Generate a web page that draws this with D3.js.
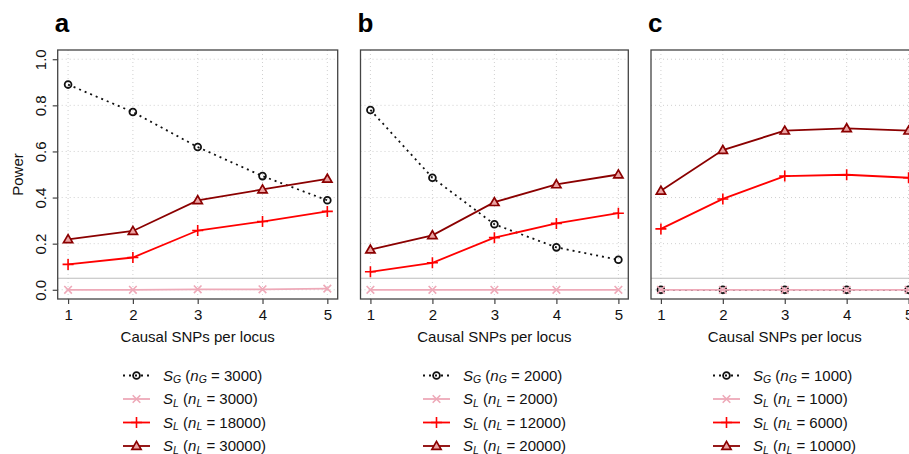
<!DOCTYPE html>
<html>
<head>
<meta charset="utf-8">
<script src="https://cdn.jsdelivr.net/npm/d3@7"></script>
<style>
  body { margin: 0; background: #fff; }
  svg { display: block; font-family: "Liberation Sans", Arial, sans-serif; }
</style>
</head>
<body>
<div id="chart"></div>
<script>
// x values shared by all panels
var snps = [1, 2, 3, 4, 5];
var yTicks = [0, 0.2, 0.4, 0.6, 0.8, 1.0];

// panel a
var sgA   = [0.890, 0.771, 0.619, 0.493, 0.388];
var slA1  = [0.000, 0.000, 0.002, 0.002, 0.005];
var slA2  = [0.110, 0.140, 0.257, 0.296, 0.340];
var slA3  = [0.219, 0.255, 0.388, 0.435, 0.481];
var nA    = ["3000", "3000", "18000", "30000"];

// panel b
var sgB   = [0.780, 0.486, 0.284, 0.184, 0.130];
var slB1  = [0.000, 0.000, 0.000, 0.000, 0.000];
var slB2  = [0.078, 0.117, 0.226, 0.288, 0.332];
var slB3  = [0.174, 0.236, 0.380, 0.457, 0.500];
var nB    = ["2000", "2000", "12000", "20000"];

// panel c
var sgC   = [0.000, 0.000, 0.000, 0.000, 0.000];
var slC1  = [0.000, 0.000, 0.000, 0.000, 0.000];
var slC2  = [0.264, 0.394, 0.493, 0.499, 0.486];
var slC3  = [0.429, 0.606, 0.690, 0.700, 0.690];
var nC    = ["1000", "1000", "6000", "10000"];

var alphaLine = 0.05;  // grey reference line

var panels = [
  {label: "a", left: 57.7, right: 337.7, series: [sgA, slA1, slA2, slA3], n: nA, yAxis: true, legendX: 123},
  {label: "b", left: 360.5, right: 628.3, series: [sgB, slB1, slB2, slB3], n: nB, yAxis: false, legendX: 423},
  {label: "c", left: 651, right: 918.5, series: [sgC, slC1, slC2, slC3], n: nC, yAxis: false, legendX: 713}
];

//style of each series, same order as the arrays above
var styles = [
  {color: "#111", dash: "2,4", shape: "circle", sub: "G"},
  {color: "#eea9b8", dash: null, shape: "x", sub: "L"},
  {color: "#ff0000", dash: null, shape: "plus", sub: "L"},
  {color: "#8b0000", dash: null, shape: "triangle", sub: "L"}
];

var width = 909, height = 454,
    plotTop = 50, plotBottom = 299;

var svg = d3.select("#chart").append("svg")
  .attr("width", width)
  .attr("height", height);

var y = d3.scaleLinear().domain([-0.04, 1.04]).range([plotBottom, plotTop]);

//Draws one marker at the given point
function marker(g, shape, color, cx, cy) {
  if (shape === "circle") {
    g.append("circle").attr("cx", cx).attr("cy", cy).attr("r", 3.4)
      .attr("fill", "none").attr("stroke", color).attr("stroke-width", 1.8);
  } else if (shape === "x") {
    var s = 3.8;
    g.append("path")
      .attr("d", `M${cx-s},${cy-s}L${cx+s},${cy+s}M${cx-s},${cy+s}L${cx+s},${cy-s}`)
      .attr("stroke", color).attr("stroke-width", 1.6);
  } else if (shape === "plus") {
    var p = 5.5;
    g.append("path")
      .attr("d", `M${cx-p},${cy}L${cx+p},${cy}M${cx},${cy-p}L${cx},${cy+p}`)
      .attr("stroke", color).attr("stroke-width", 1.6);
  } else {
    var t = 4.6;
    g.append("path")
      .attr("d", `M${cx},${cy-t}L${cx+t},${cy+t*0.72}L${cx-t},${cy+t*0.72}Z`)
      .attr("fill", "#eba4a4")
      .attr("stroke", color).attr("stroke-width", 1.7);
  }
}

panels.forEach(function(p) {
  var x = d3.scaleLinear().domain([0.84, 5.16]).range([p.left, p.right]);
  var g = svg.append("g");

  //Dotted grid
  g.selectAll(".vgrid").data(snps).enter().append("line")
    .attr("x1", d => x(d)).attr("x2", d => x(d))
    .attr("y1", plotTop).attr("y2", plotBottom)
    .attr("stroke", "#d0d0d0").attr("stroke-dasharray", "1,3");
  g.selectAll(".hgrid").data(yTicks).enter().append("line")
    .attr("x1", p.left).attr("x2", p.right)
    .attr("y1", d => y(d)).attr("y2", d => y(d))
    .attr("stroke", "#d0d0d0").attr("stroke-dasharray", "1,3");

  //Grey line at 0.05
  g.append("line")
    .attr("x1", p.left).attr("x2", p.right)
    .attr("y1", y(alphaLine)).attr("y2", y(alphaLine))
    .attr("stroke", "#bdbdbd").attr("stroke-width", 1.2);

  //Series
  p.series.forEach(function(vals, i) {
    var st = styles[i];
    var line = d3.line().x((d, j) => x(snps[j])).y(d => y(d));
    g.append("path")
      .attr("d", line(vals))
      .attr("fill", "none")
      .attr("stroke", st.color)
      .attr("stroke-width", 1.8)
      .attr("stroke-dasharray", st.dash);
    vals.forEach(function(v, j) {
      marker(g, st.shape, st.color, x(snps[j]), y(v));
    });
  });

  //Box
  g.append("rect")
    .attr("x", p.left).attr("y", plotTop)
    .attr("width", p.right - p.left).attr("height", plotBottom - plotTop)
    .attr("fill", "none").attr("stroke", "#444").attr("stroke-width", 1.3);

  //x axis
  var xAxis = g.append("g")
    .attr("transform", `translate(0,${plotBottom})`)
    .call(d3.axisBottom(x).tickValues(snps).tickSize(5).tickPadding(5).tickFormat(d3.format("d")));
  xAxis.select(".domain").remove();
  xAxis.selectAll("line").attr("stroke", "#444").attr("stroke-width", 1.2);
  xAxis.selectAll("text").attr("font-size", 15).attr("fill", "#111")
    .attr("font-family", "Liberation Sans, Arial, sans-serif");

  g.append("text")
    .attr("x", (p.left + p.right) / 2).attr("y", 342)
    .attr("text-anchor", "middle").attr("font-size", 15).attr("fill", "#111")
    .text("Causal SNPs per locus");

  //y axis, only on the first panel
  if (p.yAxis) {
    var yAxis = g.append("g")
      .attr("transform", `translate(${p.left},0)`)
      .call(d3.axisLeft(y).tickValues(yTicks).tickSize(5).tickFormat(d3.format(".1f")));
    yAxis.select(".domain").remove();
    yAxis.selectAll("line").attr("stroke", "#444").attr("stroke-width", 1.2);
    yAxis.selectAll("text")
      .attr("font-size", 15).attr("fill", "#111")
      .attr("font-family", "Liberation Sans, Arial, sans-serif")
      .attr("text-anchor", "middle")
      .attr("x", null).attr("dy", null)
      .attr("transform", "translate(-12,0) rotate(-90)");
    g.append("text")
      .attr("transform", `translate(23,${(plotTop + plotBottom) / 2}) rotate(-90)`)
      .attr("text-anchor", "middle").attr("font-size", 15).attr("fill", "#111")
      .text("Power");
  }

  //Panel label
  g.append("text")
    .attr("x", p.left - 3).attr("y", 32)
    .attr("font-size", 26).attr("font-weight", "bold").attr("fill", "#000")
    .text(p.label);

  //Legend
  styles.forEach(function(st, i) {
    var ly = 375.5 + i * 23.5;
    var lx = p.legendX;
    g.append("line")
      .attr("x1", lx).attr("x2", lx + 27)
      .attr("y1", ly).attr("y2", ly)
      .attr("stroke", st.color).attr("stroke-width", 1.8)
      .attr("stroke-dasharray", st.dash);
    marker(g, st.shape, st.color, lx + 13.5, ly);
    var t = g.append("text")
      .attr("x", lx + 40).attr("y", ly + 5)
      .attr("font-size", 15).attr("fill", "#111");
    t.append("tspan").attr("font-style", "italic").text("S");
    t.append("tspan").attr("font-style", "italic").attr("font-size", 10.5).attr("dy", 2.5).text(st.sub);
    t.append("tspan").attr("dy", -2.5).text(" (");
    t.append("tspan").attr("font-style", "italic").text("n");
    t.append("tspan").attr("font-style", "italic").attr("font-size", 10.5).attr("dy", 2.5).text(st.sub);
    t.append("tspan").attr("dy", -2.5).text(" = " + p.n[i] + ")");
  });
});
</script>
</body>
</html>
